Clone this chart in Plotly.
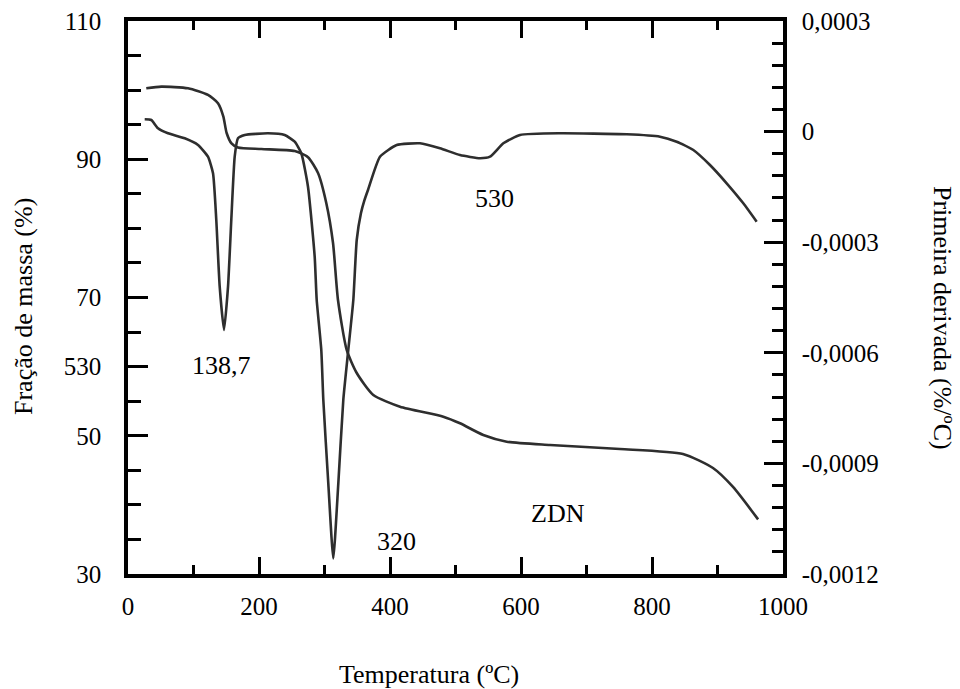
import plotly.graph_objects as go

# TG curve (mass fraction, left axis)
tg_temp = [27.9, 50.8, 91.6, 122.1, 137.4, 145.5, 150.6, 158.0, 167.9, 203.5, 254.5, 274.8,
           290.1, 302.7, 313.0, 320.6, 333.9, 349.2, 374.5, 415.3, 481.4, 506.9, 542.4,
           578.2, 644.3, 751.1, 847.3, 893.1, 923.7, 962.0]
tg_mass = [100.26, 100.5, 100.26, 99.3, 98.1, 96.2, 93.8, 92.3, 91.7, 91.48, 91.19, 90.3,
           88.01, 83.67, 77.88, 69.64, 62.41, 59.08, 55.90, 54.20, 52.76, 51.80, 50.11,
           49.14, 48.66, 48.08, 47.36, 45.33, 42.59, 37.9]

# DTG curve (first derivative, right axis)
dtg_temp = [25.5, 35.6, 45.8, 61.1, 86.6, 106.9, 122.1, 129.8, 134.8, 140.0, 146.6, 152.7,
            157.7, 162.9, 167.9, 178.2, 213.7, 239.2, 254.5, 264.6, 274.8, 285.0, 288.1,
            295.1, 298.2, 305.8, 313.4, 321.1, 328.7, 336.3, 344.0, 349.2, 355.7, 361.0,
            366.4, 384.7, 410.2, 445.8, 476.3, 506.9, 537.4, 552.7, 573.0, 598.5, 659.5,
            761.4, 812.2, 837.7, 863.1, 888.5, 914.0, 939.4, 959.8]
dtg_val = [0.0000334, 0.0000315, 0.0000090, -0.0000046, -0.0000182, -0.0000364, -0.0000681,
           -0.0001131, -0.0002398, -0.0004207, -0.0005382, -0.0004207, -0.0002398, -0.0000681,
           -0.0000182, -0.0000092, -0.0000046, -0.0000092, -0.0000274, -0.0000589, -0.0001495,
           -0.0003393, -0.0004568, -0.0005924, -0.000728, -0.000954, -0.001158, -0.000954,
           -0.000728, -0.0005924, -0.0004568, -0.000294, -0.000221, -0.000186,
           -0.0001584, -0.0000681, -0.0000364, -0.0000318, -0.0000453, -0.0000635, -0.0000724,
           -0.0000681, -0.0000318, -0.0000092, -0.0000046, -0.0000073, -0.0000138, -0.0000274,
           -0.0000499, -0.0000906, -0.0001402, -0.0001945, -0.0002444]

x_ticks = [0, 200, 400, 600, 800, 1000]
x_ticktext = ["0", "200", "400", "600", "800", "1000"]
y_ticks = [30, 50, 60, 70, 90, 110]
y_ticktext = ["30", "50", "530", "70", "90", "110"]
y2_ticks = [-0.0012, -0.0009, -0.0006, -0.0003, 0, 0.0003]
y2_ticktext = ["-0,0012", "-0,0009", "-0,0006", "-0,0003", "0", "0,0003"]

labels = ["138,7", "320", "530", "ZDN"]
label_x = [143.5, 410, 560, 657]
label_y = [60.1, 34.7, 84.35, 38.8]

FONT = "Liberation Serif"
LINE = "#2e2e2e"

L, R, T, B = 128, 177, 21, 115
W, H = 960, 689
plot_w = W - L - R
plot_h = H - T - B


def px_x(p):
    return (p - L) / plot_w


def px_y(p):
    return (H - B - p) / plot_h


fig = go.Figure()
fig.add_trace(go.Scatter(x=tg_temp, y=tg_mass, mode="lines",
                         line=dict(color=LINE, width=2.6, shape="spline", smoothing=0.6), yaxis="y"))
fig.add_trace(go.Scatter(x=dtg_temp, y=dtg_val, mode="lines",
                         line=dict(color=LINE, width=2.6, shape="spline", smoothing=0.5), yaxis="y2"))

for t, xx, yy in zip(labels, label_x, label_y):
    fig.add_annotation(x=xx, y=yy, xref="x", yref="y", text=t, showarrow=False,
                       xanchor="center", yanchor="middle",
                       font=dict(family=FONT, size=26, color="black"))

titles = [("Temperatura (ºC)", 429, 674, 0),
          ("Fração de massa (%)", 23, 307, -90),
          ("Primeira derivada (%/ºC)", 943, 318, 90)]
for text, xp, yp, ang in titles:
    fig.add_annotation(x=px_x(xp), y=px_y(yp), xref="paper", yref="paper", text=text,
                       textangle=ang, showarrow=False, xanchor="center", yanchor="middle",
                       font=dict(family=FONT, size=26, color="black"))

fig.update_layout(
    width=W, height=H,
    margin=dict(l=L, r=R, t=T, b=B, autoexpand=False),
    paper_bgcolor="white", plot_bgcolor="white",
    showlegend=False,
    font=dict(family=FONT, size=25, color="black"),
    xaxis=dict(range=[0, 1000], tickmode="array", tickvals=x_ticks, ticktext=x_ticktext,
               ticks="inside", ticklen=17, tickwidth=2.5, tickcolor="black",
               minor=dict(ticks="inside", ticklen=9, tickwidth=2.5, tickcolor="black", tick0=0, dtick=100),
               showline=True, linecolor="black", linewidth=3.5, mirror="ticks",
               showgrid=False, zeroline=False, ticklabelstandoff=7, automargin=False),
    yaxis=dict(range=[30, 110], tickmode="array", tickvals=y_ticks, ticktext=y_ticktext,
               ticks="inside", ticklen=20, tickwidth=2.5, tickcolor="black",
               minor=dict(ticks="inside", ticklen=13, tickwidth=2.5, tickcolor="black", tick0=30, dtick=5),
               showline=True, linecolor="black", linewidth=3.5, mirror=True,
               showgrid=False, zeroline=False, ticklabelstandoff=18, automargin=False),
    yaxis2=dict(range=[-0.0012, 0.0003], overlaying="y", side="right", tickmode="array",
                tickvals=y2_ticks, ticktext=y2_ticktext,
                ticks="inside", ticklen=19, tickwidth=2.5, tickcolor="black",
                minor=dict(ticks="inside", ticklen=11, tickwidth=2.5, tickcolor="black", tick0=0, dtick=0.00006),
                showline=True, linecolor="black", linewidth=3.5,
                showgrid=False, zeroline=False, ticklabelstandoff=10, automargin=False),
)

fig.write_html("out.html")
